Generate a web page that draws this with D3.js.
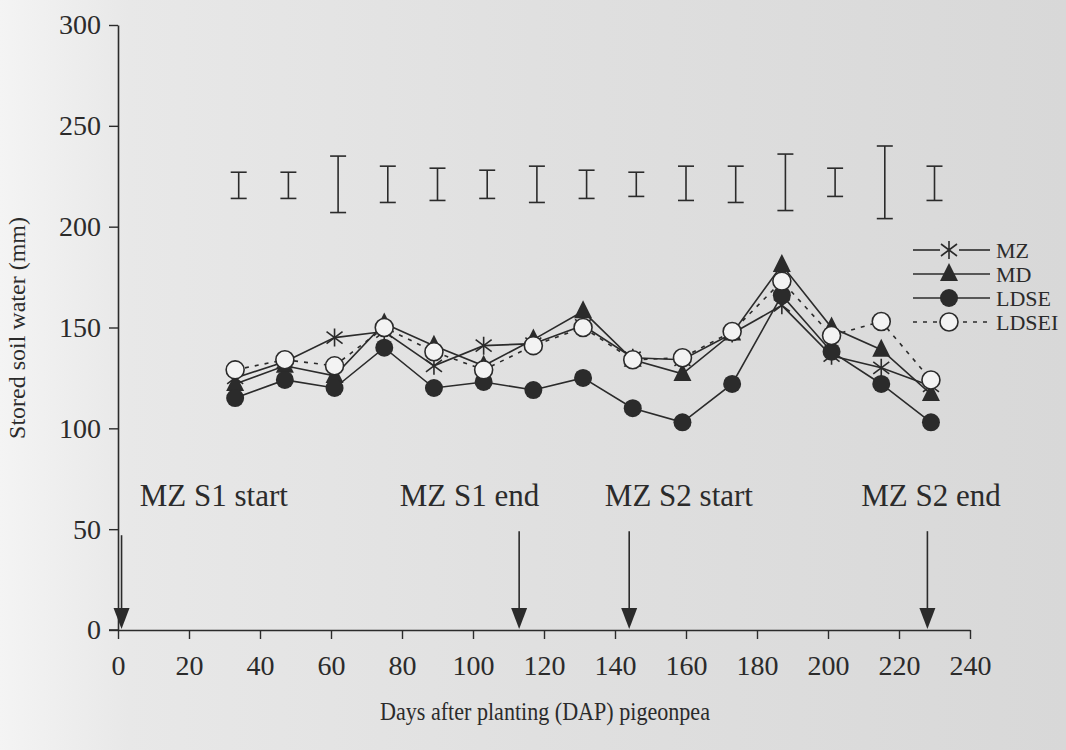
<!DOCTYPE html>
<html>
<head>
<meta charset="utf-8">
<script src="https://cdn.jsdelivr.net/npm/d3@7"></script>
<style>
  html, body { margin: 0; padding: 0; background: #e2e2e2; }
  svg { display: block; }
  text { font-family: "Liberation Serif", "Times New Roman", serif; fill: #2b2b2b; }
</style>
</head>
<body>
<svg id="chart" width="1066" height="750"></svg>
<script>
// Sampling dates (days after planting) and stored soil water (mm) per treatment
const days  = [33, 47, 61, 75, 89, 103, 117, 131, 145, 159, 173, 187, 201, 215, 229];
const mz    = [125, 133, 145, 148, 131, 141, 142, 151, 135, 134, 147, 161, 136, 130, 121];
const md    = [122, 131, 126, 152, 141, 131, 144, 158, 134, 127, 147, 181, 150, 139, 117];
const ldse  = [115, 124, 120, 140, 120, 123, 119, 125, 110, 103, 122, 166, 138, 122, 103];
const ldsei = [129, 134, 131, 150, 138, 129, 141, 150, 134, 135, 148, 173, 146, 153, 124];

// LSD bars drawn above the series
const errDays = [34, 48, 62, 76, 90, 104, 118, 132, 146, 160, 174, 188, 202, 216, 230];
const errLow  = [214, 214, 207, 212, 213, 214, 212, 214, 215, 213, 212, 208, 215, 204, 213];
const errHigh = [227, 227, 235, 230, 229, 228, 230, 228, 227, 230, 230, 236, 229, 240, 230];

// Season events marked with arrows
const eventDays   = [1, 113, 144, 228];
const eventLabels = ["MZ S1 start", "MZ S1 end", "MZ S2 start", "MZ S2 end"];
const eventLabelDays = [27, 99, 158, 229];
const eventTop = [47, 49, 49, 49];

// Axis ticks
const xTicks = [0, 20, 40, 60, 80, 100, 120, 140, 160, 180, 200, 220, 240];
const yTicks = [0, 50, 100, 150, 200, 250, 300];

const seriesNames = ["MZ", "MD", "LDSE", "LDSEI"];

const ink = "#2b2b2b";
const svg = d3.select("#chart");

// paper background, lighter toward the left edge
const defs = svg.append("defs");
const grad = defs.append("linearGradient").attr("id", "paper").attr("x1", 0).attr("x2", 1).attr("y1", 0).attr("y2", 0);
grad.append("stop").attr("offset", "0").attr("stop-color", "#f4f4f4");
grad.append("stop").attr("offset", "0.12").attr("stop-color", "#e8e8e8");
grad.append("stop").attr("offset", "0.5").attr("stop-color", "#e0e0e0");
grad.append("stop").attr("offset", "1").attr("stop-color", "#d8d8d8");
svg.append("rect").attr("width", 1066).attr("height", 750).attr("fill", "url(#paper)");

const x = d3.scaleLinear().domain([0, 240]).range([118, 970]);
const y = d3.scaleLinear().domain([0, 300]).range([630, 25]);

// axes
const xAxis = svg.append("g").attr("transform", `translate(0,${y(0)})`)
  .call(d3.axisBottom(x).tickValues(xTicks).tickSize(9).tickPadding(16).tickSizeOuter(0));
const yAxis = svg.append("g").attr("transform", `translate(${x(0)},0)`)
  .call(d3.axisLeft(y).tickValues(yTicks).tickSize(9).tickPadding(8).tickSizeOuter(0));
[xAxis, yAxis].forEach(g => {
  g.select(".domain").attr("stroke", ink).attr("stroke-width", 1.6);
  g.selectAll(".tick line").attr("stroke", ink).attr("stroke-width", 1.4);
  g.selectAll(".tick text").attr("font-size", 28).attr("fill", ink)
    .attr("font-family", "Liberation Serif");
});
// extend the x axis line a little to the left of the y axis
svg.append("line").attr("x1", x(0) - 9).attr("x2", x(0)).attr("y1", y(0)).attr("y2", y(0))
  .attr("stroke", ink).attr("stroke-width", 1.6);

// axis titles (condensed serif)
svg.append("text").attr("transform", "translate(545,720) scale(0.85,1)").attr("text-anchor", "middle")
  .attr("font-size", 26).text("Days after planting (DAP) pigeonpea");
svg.append("text").attr("transform", "translate(25,328) rotate(-90)").attr("text-anchor", "middle")
  .attr("font-size", 24).text("Stored soil water (mm)");

// LSD bars
const err = svg.append("g").attr("stroke", ink).attr("stroke-width", 1.6);
errDays.forEach((d, i) => {
  const cx = x(d);
  err.append("line").attr("x1", cx).attr("x2", cx).attr("y1", y(errLow[i])).attr("y2", y(errHigh[i]));
  err.append("line").attr("x1", cx - 8).attr("x2", cx + 8).attr("y1", y(errLow[i])).attr("y2", y(errLow[i]));
  err.append("line").attr("x1", cx - 8).attr("x2", cx + 8).attr("y1", y(errHigh[i])).attr("y2", y(errHigh[i]));
});

// event arrows and labels
const ev = svg.append("g");
eventDays.forEach((d, i) => {
  const ax = x(d);
  ev.append("line").attr("x1", ax).attr("x2", ax).attr("y1", y(eventTop[i])).attr("y2", y(0) - 20)
    .attr("stroke", ink).attr("stroke-width", 1.6);
  ev.append("path").attr("d", `M${ax - 8},${y(0) - 22} L${ax + 8},${y(0) - 22} L${ax},${y(0) - 1} Z`)
    .attr("fill", ink);
  ev.append("text").attr("x", x(eventLabelDays[i])).attr("y", 506).attr("text-anchor", "middle")
    .attr("font-size", 31).text(eventLabels[i]);
});

// marker shapes
function drawMarker(g, kind, cx, cy) {
  if (kind === "MZ") {
    g.append("path")
      .attr("d", `M${cx},${cy - 9} L${cx},${cy + 9} M${cx - 8},${cy - 6} L${cx + 8},${cy + 6} M${cx - 8},${cy + 6} L${cx + 8},${cy - 6}`)
      .attr("stroke", ink).attr("stroke-width", 1.6).attr("fill", "none");
  } else if (kind === "MD") {
    g.append("path").attr("d", `M${cx},${cy - 11} L${cx + 9},${cy + 7} L${cx - 9},${cy + 7} Z`).attr("fill", ink);
  } else if (kind === "LDSE") {
    g.append("circle").attr("cx", cx).attr("cy", cy).attr("r", 9).attr("fill", ink);
  } else {
    g.append("circle").attr("cx", cx).attr("cy", cy).attr("r", 9)
      .attr("fill", "#f3f3f3").attr("stroke", ink).attr("stroke-width", 1.6);
  }
}

const seriesValues = [mz, md, ldse, ldsei];
const line = d3.line().x(d => x(d[0])).y(d => y(d[1]));

// lines first, then markers in series order
const lines = svg.append("g");
seriesValues.forEach((vals, si) => {
  const pts = days.map((d, i) => [d, vals[i]]);
  const p = lines.append("path").attr("d", line(pts)).attr("fill", "none")
    .attr("stroke", ink).attr("stroke-width", 1.6);
  if (seriesNames[si] === "LDSEI") p.attr("stroke-dasharray", "4,6");
});
const markers = svg.append("g");
seriesValues.forEach((vals, si) => {
  days.forEach((d, i) => drawMarker(markers, seriesNames[si], x(d), y(vals[i])));
});

// legend
const lg = svg.append("g");
const legendRows = [250, 274, 298, 322];
seriesNames.forEach((name, i) => {
  const ly = legendRows[i];
  if (name === "MZ") {
    lg.append("line").attr("x1", 913).attr("x2", 940).attr("y1", ly).attr("y2", ly).attr("stroke", ink).attr("stroke-width", 1.6);
    lg.append("line").attr("x1", 959).attr("x2", 990).attr("y1", ly).attr("y2", ly).attr("stroke", ink).attr("stroke-width", 1.6);
  } else {
    const l = lg.append("line").attr("x1", 913).attr("x2", 990).attr("y1", ly).attr("y2", ly)
      .attr("stroke", ink).attr("stroke-width", 1.6);
    if (name === "LDSEI") l.attr("stroke-dasharray", "4,6");
  }
  drawMarker(lg, name, 949, ly);
  lg.append("text").attr("x", 996).attr("y", ly + 8).attr("font-size", 22).text(name);
});
</script>
</body>
</html>
